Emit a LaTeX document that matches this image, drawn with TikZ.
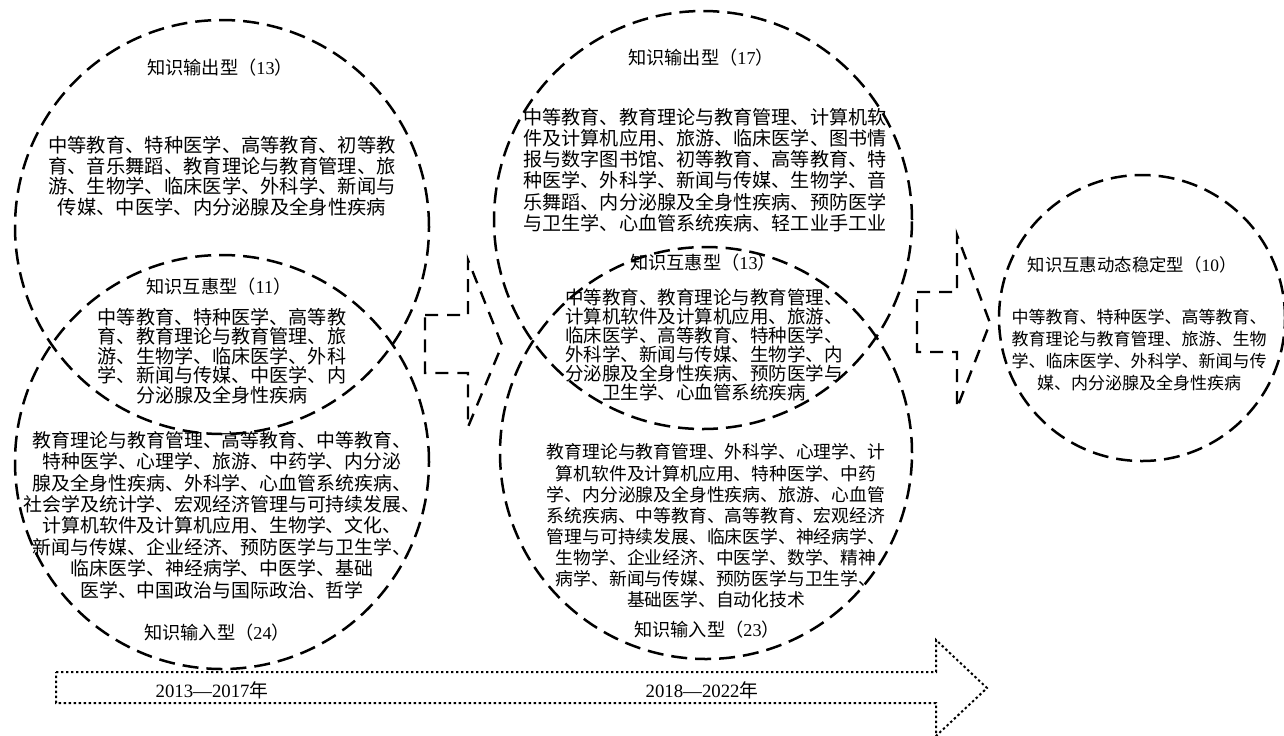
\documentclass[tikz,border=0pt]{standalone}
\usepackage{fontspec}
\setmainfont{Liberation Serif}
\newfontfamily\cjk{Noto Sans CJK SC}
\newcommand\nm[1]{{\rmfamily #1}}
\begin{document}
\begin{tikzpicture}[x=0.5pt,y=-0.5pt,
  ring/.style={draw, circle, inner sep=0pt, line width=1.25pt, dash pattern=on 8pt off 4pt},
  blk/.style={line width=1.2pt, dash pattern=on 6.5pt off 4.5pt, line join=miter},
  dots/.style={line width=1pt, dash pattern=on 1.2pt off 1.3pt, line join=miter},
  txt/.style={align=center, inner sep=0pt},
  ttl/.style={inner sep=0pt, font=\cjk\fontsize{9.1pt}{10pt}\selectfont},
]
\useasboundingbox (0,0) rectangle (1284,735);

% circles
\node[ring, minimum size=207pt] (o1) at (222,227) {};
\node[ring, minimum size=207pt] (i1) at (222,462) {};
\node[ring, minimum size=209pt] (o2) at (703,220) {};
\node[ring, minimum size=206pt] (i2) at (706,453) {};
\node[ring, minimum size=143pt] (st) at (1142,318) {};

% left group texts
\node[ttl] (o1t) at (220,68) {知识输出型（\nm{13}）};
\node[txt, font=\cjk\fontsize{9.65pt}{10.25pt}\selectfont] (o1b) at (222,176)
  {中等教育、特种医学、高等教育、初等教\\育、音乐舞蹈、教育理论与教育管理、旅\\游、生物学、临床医学、外科学、新闻与\\传媒、中医学、内分泌腺及全身性疾病};
\node[ttl] (m1t) at (219,287) {知识互惠型（\nm{11}）};
\node[txt, font=\cjk\fontsize{9.55pt}{9.75pt}\selectfont] (m1b) at (222,356)
  {中等教育、特种医学、高等教\\育、教育理论与教育管理、旅\\游、生物学、临床医学、外科\\学、新闻与传媒、中医学、内\\分泌腺及全身性疾病};
\node[txt, font=\cjk\fontsize{9.45pt}{10.7pt}\selectfont] (i1b) at (222,515)
  {教育理论与教育管理、高等教育、中等教育、\\特种医学、心理学、旅游、中药学、内分泌\\腺及全身性疾病、外科学、心血管系统疾病、\\社会学及统计学、宏观经济管理与可持续发展、\\计算机软件及计算机应用、生物学、文化、\\新闻与传媒、企业经济、预防医学与卫生学、\\临床医学、神经病学、中医学、基础\\医学、中国政治与国际政治、哲学};
\node[ttl] (i1t) at (217,633) {知识输入型（\nm{24}）};

% middle group texts
\node[ttl] (o2t) at (701,58) {知识输出型（\nm{17}）};
\node[txt, font=\cjk\fontsize{9.55pt}{10.6pt}\selectfont] (o2b) at (705,170)
  {中等教育、教育理论与教育管理、计算机软\\件及计算机应用、旅游、临床医学、图书情\\报与数字图书馆、初等教育、高等教育、特\\种医学、外科学、新闻与传媒、生物学、音\\乐舞蹈、内分泌腺及全身性疾病、预防医学\\与卫生学、心血管系统疾病、轻工业手工业};
\node[ttl] (m2t) at (703,263) {知识互惠型（\nm{13}）};
\node[txt, font=\cjk\fontsize{9.25pt}{9.5pt}\selectfont] (m2b) at (704,344.5)
  {中等教育、教育理论与教育管理、\\计算机软件及计算机应用、旅游、\\临床医学、高等教育、特种医学、\\外科学、新闻与传媒、生物学、内\\分泌腺及全身性疾病、预防医学与\\卫生学、心血管系统疾病};
\node[txt, font=\cjk\fontsize{8.9pt}{10.55pt}\selectfont] (i2b) at (716,526)
  {教育理论与教育管理、外科学、心理学、计\\算机软件及计算机应用、特种医学、中药\\学、内分泌腺及全身性疾病、旅游、心血管\\系统疾病、中等教育、高等教育、宏观经济\\管理与可持续发展、临床医学、神经病学、\\生物学、企业经济、中医学、数学、精神\\病学、新闻与传媒、预防医学与卫生学、\\基础医学、自动化技术};
\node[ttl] (i2t) at (707,630) {知识输入型（\nm{23}）};

% right circle texts
\node[inner sep=0pt, font=\cjk\fontsize{8.7pt}{10pt}\selectfont] (stt) at (1132,265) {知识互惠动态稳定型（\nm{10}）};
\node[txt, font=\cjk\fontsize{8.5pt}{11pt}\selectfont] (stb) at (1139,350)
  {中等教育、特种医学、高等教育、\\教育理论与教育管理、旅游、生物\\学、临床医学、外科学、新闻与传\\媒、内分泌腺及全身性疾病};

% block arrows
\draw[blk] (425,315) -- (468,315) -- (468,260) -- (502,345) -- (468,427) -- (468,373) -- (425,373) -- cycle;
\draw[blk] (917,292) -- (957,292) -- (957,235) -- (990,323) -- (957,408) -- (957,352) -- (917,352) -- cycle;

% time arrow
\draw[dots] (56,672) -- (936,672) -- (936,640) -- (987,688) -- (936,736) -- (936,703) -- (56,703) -- cycle;
\node[inner sep=0pt, font=\fontsize{9.4pt}{10pt}\selectfont] (y1) at (212,690) {2013—2017{\cjk 年}};
\node[inner sep=0pt, font=\fontsize{9.4pt}{10pt}\selectfont] (y2) at (702,690) {2018—2022{\cjk 年}};
\end{tikzpicture}
\end{document}
